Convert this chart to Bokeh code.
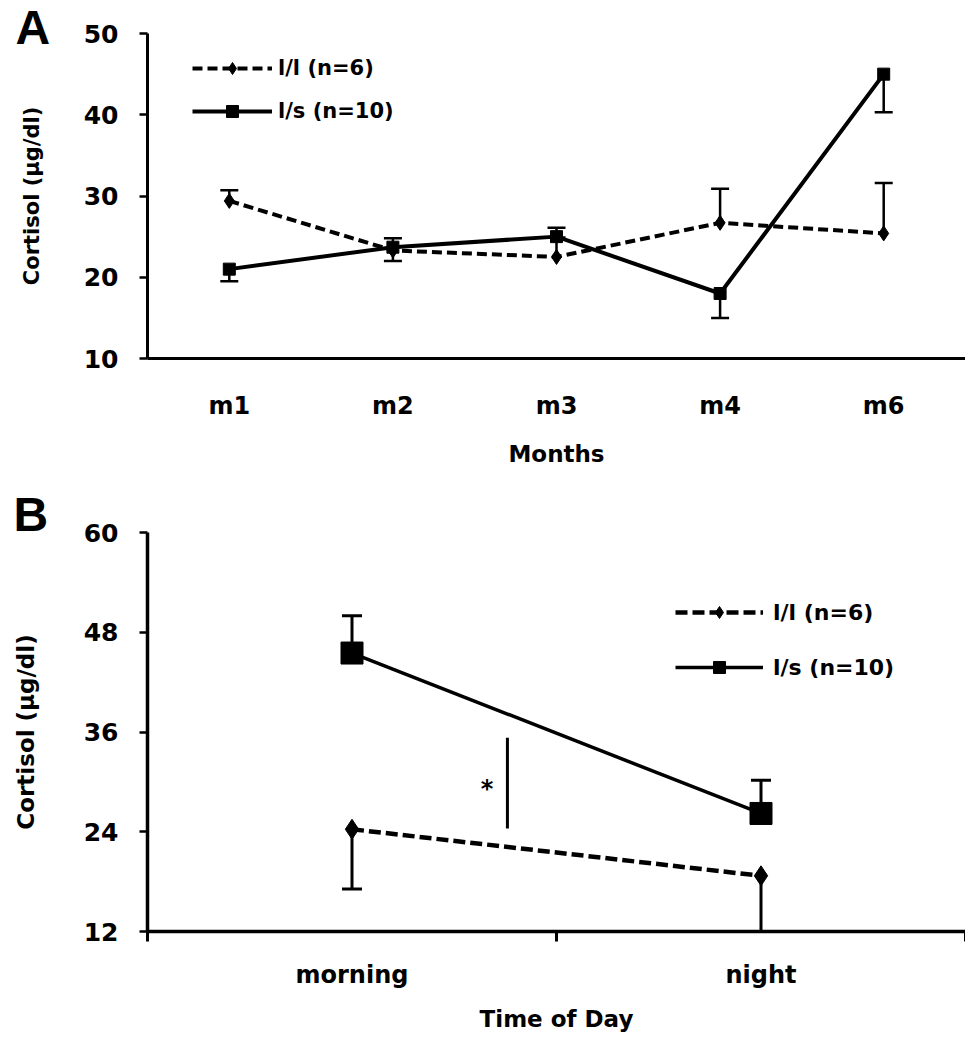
from bokeh.plotting import figure
from bokeh.models import (ColumnDataSource, Whisker, TeeHead, FixedTicker, Label,
                          Legend, LegendItem, Range1d)
from bokeh.layouts import column
from bokeh.embed import file_html
from bokeh.resources import INLINE

FONT = "DejaVu Sans"

# ---------------- Panel A data ----------------
months = ["m1", "m2", "m3", "m4", "m6"]
a_ll = [29.4, 23.3, 22.5, 26.7, 25.4]
a_ll_err_up = [1.3, 0.0, 2.4, 4.2, 6.2]
a_ll_err_dn = [0.0, 1.3, 0.0, 0.0, 0.0]
a_ls = [21.0, 23.7, 25.0, 18.0, 45.0]
a_ls_err_up = [0.0, 1.1, 1.1, 0.0, 0.0]
a_ls_err_dn = [1.5, 0.0, 0.0, 3.0, 4.7]
a_yticks = [10, 20, 30, 40, 50]

# ---------------- Panel B data ----------------
times = ["morning", "night"]
b_ll = [24.3, 18.7]
b_ll_err_dn = [7.2, 6.7]
b_ls = [45.5, 26.2]
b_ls_err_up = [4.5, 4.0]
b_yticks = [12, 24, 36, 48, 60]
sig_line_y = [24.4, 35.3]
sig_x = 1.38
star_x, star_y = 1.33, 29.2

labels_ll = "l/l (n=6)"
labels_ls = "l/s (n=10)"
ylab = "Cortisol (µg/dl)"


def add_err(p, xs, ys, errs, direction, head, lw):
    idx = [i for i, e in enumerate(errs) if e > 0]
    if not idx:
        return
    base = [xs[i] for i in idx]
    if direction == "up":
        lower = [ys[i] for i in idx]
        upper = [ys[i] + errs[i] for i in idx]
        w = Whisker(source=ColumnDataSource(dict(base=base, lower=lower, upper=upper)),
                    base="base", lower="lower", upper="upper", dimension="height",
                    line_width=lw, line_color="black",
                    upper_head=TeeHead(size=head, line_width=lw, line_color="black"),
                    lower_head=None)
    else:
        lower = [ys[i] - errs[i] for i in idx]
        upper = [ys[i] for i in idx]
        w = Whisker(source=ColumnDataSource(dict(base=base, lower=lower, upper=upper)),
                    base="base", lower="lower", upper="upper", dimension="height",
                    line_width=lw, line_color="black",
                    lower_head=TeeHead(size=head, line_width=lw, line_color="black"),
                    upper_head=None)
    p.add_layout(w)


def panel_letter(p, text, offset, standoff):
    t = p.title
    t.text = text
    t.text_font = "Liberation Sans"
    t.text_font_style = "bold"
    t.text_font_size = "48px"
    t.text_color = "black"
    t.align = "left"
    t.vertical_align = "bottom"
    t.offset = offset
    t.standoff = standoff


def style_axes(p, yticks, ylabel_standoff, ylabel_size, axis_lw):
    p.xgrid.visible = False
    p.ygrid.visible = False
    p.outline_line_color = None
    p.background_fill_color = "white"
    p.border_fill_color = "white"
    ya = p.yaxis[0]
    ya.ticker = FixedTicker(ticks=yticks)
    ya.axis_line_width = axis_lw
    ya.axis_line_color = "black"
    ya.major_tick_line_width = 2.5
    ya.major_tick_out = 8
    ya.major_tick_in = 0
    ya.minor_tick_line_color = None
    ya.major_label_text_font = FONT
    ya.major_label_text_font_style = "bold"
    ya.major_label_text_font_size = "25px"
    ya.major_label_text_color = "black"
    ya.major_label_standoff = 21
    ya.axis_label = ylab
    ya.axis_label_text_font = FONT
    ya.axis_label_text_font_style = "bold"
    ya.axis_label_text_font_size = ylabel_size
    ya.axis_label_text_color = "black"
    ya.axis_label_standoff = ylabel_standoff
    xa = p.xaxis[0]
    xa.axis_line_width = axis_lw
    xa.axis_line_color = "black"
    xa.major_tick_out = 0
    xa.major_tick_in = 0
    xa.major_label_text_font = FONT
    xa.major_label_text_font_style = "bold"
    xa.major_label_text_font_size = "24px"
    xa.major_label_text_color = "black"
    xa.axis_label_text_font = FONT
    xa.axis_label_text_font_style = "bold"
    xa.axis_label_text_font_size = "23px"
    xa.axis_label_text_color = "black"


# ================= Panel A =================
ax = list(range(1, len(months) + 1))
pa = figure(width=965, height=485, x_range=Range1d(0.5, len(months) + 0.5),
            y_range=Range1d(a_yticks[0], a_yticks[-1]),
            output_backend="svg", toolbar_location=None,
            min_border_left=147, min_border_right=0, min_border_top=33, min_border_bottom=127)
style_axes(pa, a_yticks, 37, "21px", 3)
pa.xaxis[0].ticker = FixedTicker(ticks=ax, minor_ticks=[])
pa.xaxis[0].major_label_overrides = {i: m for i, m in zip(ax, months)}
pa.xaxis[0].minor_tick_line_color = None
pa.xaxis[0].major_label_standoff = 33
pa.xaxis[0].axis_label = "Months"
pa.xaxis[0].axis_label_standoff = 18

add_err(pa, ax, a_ll, a_ll_err_up, "up", 18, 2.5)
add_err(pa, ax, a_ll, a_ll_err_dn, "down", 18, 2.5)
add_err(pa, ax, a_ls, a_ls_err_up, "up", 18, 2.5)
add_err(pa, ax, a_ls, a_ls_err_dn, "down", 18, 2.5)

ll_line = pa.line(ax, a_ll, line_color="black", line_width=4, line_dash="10 5")
ll_pts = pa.scatter(ax, a_ll, marker="diamond", size=15, color="black")
ls_line = pa.line(ax, a_ls, line_color="black", line_width=4)
ls_pts = pa.scatter(ax, a_ls, marker="square", size=12, color="black")

leg_a = Legend(items=[LegendItem(label=labels_ll, renderers=[ll_line, ll_pts]),
                      LegendItem(label=labels_ls, renderers=[ls_line, ls_pts])],
               location=(45, 232), border_line_color=None, background_fill_alpha=0,
               padding=0, margin=0, spacing=13, glyph_width=80, glyph_height=30,
               label_height=30, label_standoff=6, label_text_font=FONT,
               label_text_font_style="bold", label_text_font_size="21px",
               label_text_color="black")
pa.add_layout(leg_a)
panel_letter(pa, "A", -132, -40)

# ================= Panel B =================
bx = list(range(1, len(times) + 1))
pb = figure(width=965, height=549, x_range=Range1d(0.5, len(times) + 0.5),
            y_range=Range1d(b_yticks[0], b_yticks[-1]),
            output_backend="svg", toolbar_location=None,
            min_border_left=147, min_border_right=0, min_border_top=47, min_border_bottom=103)
style_axes(pb, b_yticks, 42, "23px", 3.5)
pb.xaxis[0].ticker = FixedTicker(ticks=bx, minor_ticks=[b - 0.5 for b in bx] + [bx[-1] + 0.5])
pb.xaxis[0].major_label_overrides = {i: t for i, t in zip(bx, times)}
pb.xaxis[0].minor_tick_out = 10
pb.xaxis[0].minor_tick_in = 0
pb.xaxis[0].minor_tick_line_width = 3
pb.xaxis[0].minor_tick_line_color = "black"
pb.xaxis[0].major_label_standoff = 19
pb.xaxis[0].axis_label = "Time of Day"
pb.xaxis[0].axis_label_standoff = 14

add_err(pb, bx, b_ll, b_ll_err_dn, "down", 20, 3)
add_err(pb, bx, b_ls, b_ls_err_up, "up", 20, 3)

bll_line = pb.line(bx, b_ll, line_color="black", line_width=4.5, line_dash="12 5")
bll_pts = pb.scatter(bx, b_ll, marker="diamond", size=20, color="black")
bls_line = pb.line(bx, b_ls, line_color="black", line_width=3.5)
bls_pts = pb.scatter(bx, b_ls, marker="square", size=22, color="black")

pb.line([sig_x, sig_x], sig_line_y, line_color="black", line_width=3)
pb.add_layout(Label(x=star_x, y=star_y, text="*", text_font=FONT, text_font_style="bold",
                    text_font_size="24px", text_align="center", text_baseline="middle",
                    text_color="black"))

leg_b = Legend(items=[LegendItem(label=labels_ll, renderers=[bll_line, bll_pts]),
                      LegendItem(label=labels_ls, renderers=[bls_line, bls_pts])],
               location=(528, 249), border_line_color=None, background_fill_alpha=0,
               padding=0, margin=0, spacing=25, glyph_width=88, glyph_height=30,
               label_height=30, label_standoff=10, label_text_font=FONT,
               label_text_font_style="bold", label_text_font_size="22px",
               label_text_color="black")
pb.add_layout(leg_b)
panel_letter(pb, "B", -134, -16)

layout = column(pa, pb, spacing=0)
open("out.html", "w").write(file_html(layout, INLINE))
